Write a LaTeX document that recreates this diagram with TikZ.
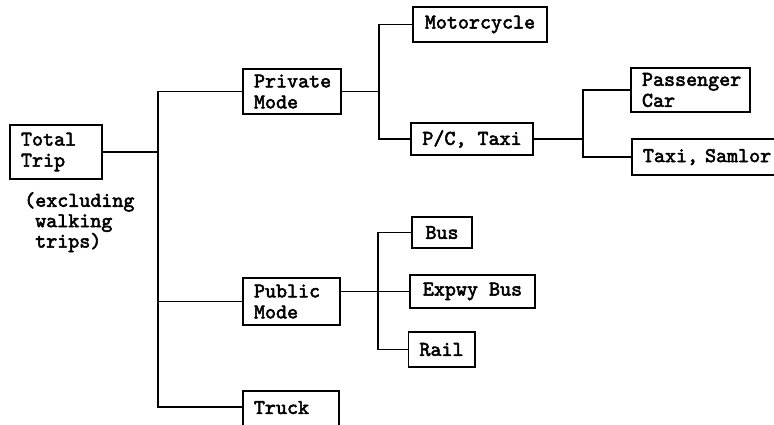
\documentclass[tikz,border=0pt]{standalone}
\usepackage{fontspec}
\newfontfamily\dotfont{lmmono10-regular}[Extension=.otf, FakeBold=2.5]
\begin{document}
\begin{tikzpicture}[x=1pt,y=-1pt,
  txt/.style={font=\dotfont\fontsize{21}{21}\selectfont},
  box/.style={txt, draw, line width=1.9pt, inner xsep=11pt, inner ysep=0pt},
  lbox/.style={box, align=left},
  conn/.style={line width=1.5pt}]
\useasboundingbox (0,0) rectangle (774,425);
\clip (0,0) rectangle (774,425);
\fill[white] (0,0) rectangle (774,425);

% boxes
\node[lbox, minimum height=54pt, text width=70pt] (total) at (56,152) {Total\\Trip};
\node[txt, align=left, anchor=north west, inner sep=0pt, font=\dotfont\fontsize{21}{18}\selectfont] (note) at (24,192) {(excluding\\\phantom{(}walking\\\phantom{(}trips)};
\node[lbox, minimum height=45pt, text width=76pt] (private) at (292,91.5) {Private\\Mode};
\node[lbox, minimum height=47pt, text width=75pt] (public) at (291.5,301.5) {Public\\Mode};
\node[lbox, anchor=north west, text width=74pt] (truck) at (242,390) {\rule{0pt}{23pt}Truck\rule[-40pt]{0pt}{40pt}};
\node[box, minimum width=134pt, minimum height=35pt] (motor) at (480,24.5) {Motorcycle};
\node[box, minimum width=122pt, minimum height=32pt] (pctaxi) at (472,139) {P/C, Taxi};
\node[lbox, minimum height=44pt, text width=97pt] (passenger) at (690.5,90) {Passenger\\Car};
\node[lbox, anchor=west, minimum height=36pt, text width=140pt] (samlor) at (631,157) {Taxi, Samlor};
\node[box, minimum width=60pt, minimum height=31pt] (bus) at (442,232.5) {Bus};
\node[box, minimum width=125pt, minimum height=33pt] (expwy) at (472.5,291.5) {Expwy Bus};
\node[box, minimum width=59pt, minimum height=35pt] (rail) at (441.5,349.5) {Rail};

% junctions
\coordinate (j1) at (158,152);
\coordinate (j2) at (379,91.5);
\coordinate (j3) at (583,139);
\coordinate (j4) at (378,291.5);
\coordinate (truckin) at ([yshift=-17pt]truck.north west);

% connectors
\draw[conn] (total.east) -- (j1);
\draw[conn] (private.west) -- (j1 |- private.west) -- (j1 |- truckin) -- (truckin);
\draw[conn] (j1 |- public.west) -- (public.west);

\draw[conn] (private.east) -- (j2);
\draw[conn] (motor.west) -- (j2 |- motor.west) -- (j2 |- pctaxi.west) -- (pctaxi.west);

\draw[conn] (pctaxi.east) -- (j3);
\draw[conn] (passenger.west) -- (j3 |- passenger.west) -- (j3 |- samlor.west) -- (samlor.west);

\draw[conn] (public.east |- expwy.west) -- (expwy.west);
\draw[conn] (bus.west) -- (j4 |- bus.west) -- (j4 |- rail.west) -- (rail.west);
\end{tikzpicture}
\end{document}
